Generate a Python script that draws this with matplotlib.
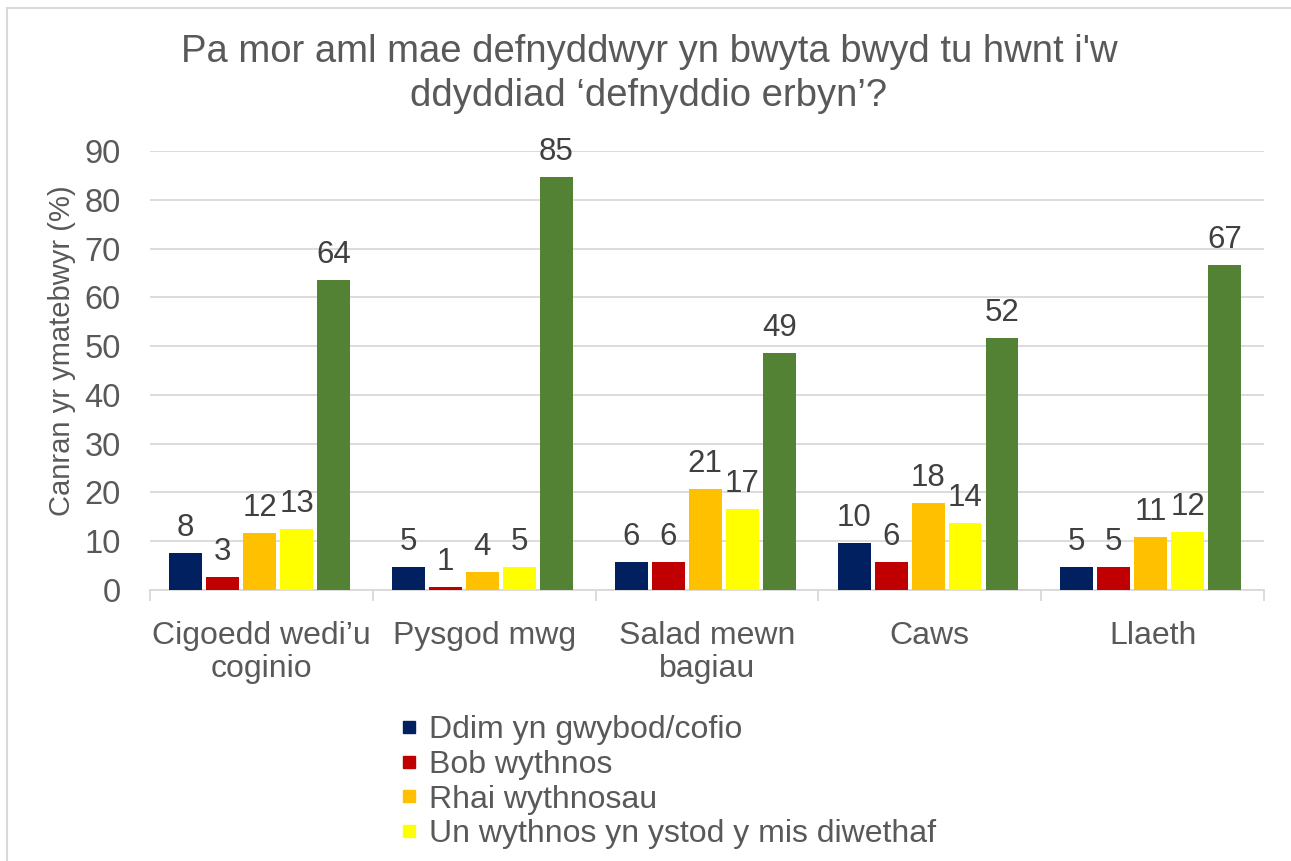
import matplotlib
matplotlib.use("Agg")
import matplotlib.pyplot as plt
from matplotlib.lines import Line2D
from matplotlib.patches import Rectangle
import numpy as np

plt.rcParams['font.family'] = ['Liberation Sans', 'DejaVu Sans']

title = "Pa mor aml mae defnyddwyr yn bwyta bwyd tu hwnt i'w\nddyddiad \u2018defnyddio erbyn\u2019?"
ylabel = "Canran yr ymatebwyr (%)"
categories = ["Cigoedd wedi\u2019u\ncoginio", "Pysgod mwg", "Salad mewn\nbagiau", "Caws", "Llaeth"]
series_names = ["Ddim yn gwybod/cofio", "Bob wythnos", "Rhai wythnosau",
                "Un wythnos yn ystod y mis diwethaf", "Byth"]
dont_know = [7.6, 4.7, 5.7, 9.6, 4.7]
every_week = [2.7, 0.6, 5.7, 5.7, 4.7]
some_weeks = [11.7, 3.7, 20.7, 17.8, 10.9]
one_week = [12.6, 4.7, 16.6, 13.7, 11.9]
never = [63.6, 84.7, 48.6, 51.7, 66.6]
series = [dont_know, every_week, some_weeks, one_week, never]
colors = ["#002060", "#C00000", "#FFC000", "#FFFF00", "#548235"]
yticks = [0, 10, 20, 30, 40, 50, 60, 70, 80, 90]

W, H = 1291, 861
fig = plt.figure(figsize=(W / 100, H / 100), dpi=100)
ax = fig.add_axes([150 / W, 1 - 590 / H, (1264 - 150) / W, (590 - 151) / H])

x = np.arange(len(categories))
step = 0.166
width = 0.148
for i, (vals, c) in enumerate(zip(series, colors)):
    pos = x + (i - 2) * step - 0.008
    bars = ax.bar(pos, vals, width=width, color=c, label=series_names[i], zorder=3)
    ax.bar_label(bars, labels=[f"{v:.0f}" for v in vals], padding=7,
                 fontsize=22.5, color="#404040")

ax.set_ylim(0, 90)
ax.set_xlim(-0.5, len(categories) - 0.5)
ax.set_yticks(yticks)
ax.yaxis.grid(True, color="#D9D9D9", linewidth=1.3, zorder=0)
ax.tick_params(axis='y', length=0, labelsize=23.5, labelcolor="#595959", pad=21)
ax.set_xticks(x)
ax.set_xticklabels(categories, fontsize=23, color="#595959", linespacing=1.1)
ax.tick_params(axis='x', which='major', length=0, pad=22.5)
ax.set_xticks(np.arange(len(categories) + 1) - 0.5, minor=True)
ax.tick_params(axis='x', which='minor', length=8, width=1.3, color="#D9D9D9")
for s in ['top', 'right', 'left']:
    ax.spines[s].set_visible(False)
ax.spines['bottom'].set_color("#D9D9D9")
ax.spines['bottom'].set_linewidth(1.3)

fig.text(649 / W, 1 - 74 / H, title, ha='center', va='center', fontsize=27.5,
         color="#595959", linespacing=1.3)
fig.text(62 / W, 1 - 351 / H, ylabel, rotation=90, ha='center', va='center',
         fontsize=21, color="#595959")

handles = [Line2D([], [], marker='s', linestyle='none', markersize=9,
                  markerfacecolor=c, markeredgecolor=c) for c in colors[:4]]
fig.legend(handles, series_names[:4], loc='upper left',
           bbox_to_anchor=(399 / W, 1 - 715 / H), frameon=False, fontsize=23,
           labelcolor="#595959", handlelength=0.6, handletextpad=0.35,
           labelspacing=0.15, borderaxespad=0, borderpad=0)

fig.add_artist(Rectangle((7 / W, -0.1), (W + 20) / W, 1 - 8 / H + 0.1,
                         transform=fig.transFigure, fill=False,
                         edgecolor="#D9D9D9", linewidth=1.5))

fig.savefig("out.png", dpi=100)
